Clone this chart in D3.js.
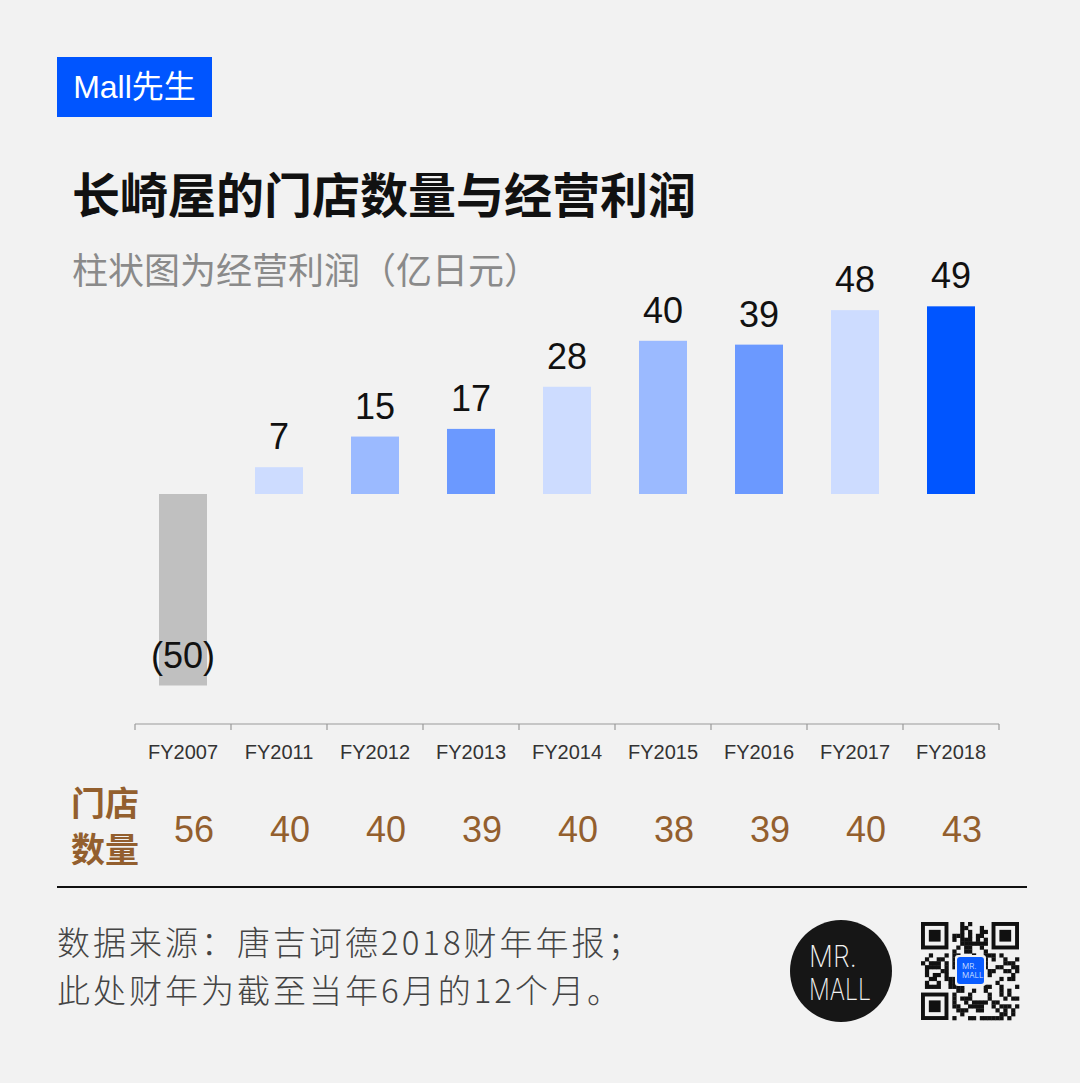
<!DOCTYPE html>
<html>
<head>
<meta charset="utf-8">
<script src="https://cdn.jsdelivr.net/npm/d3@7"></script>
<style>
  html, body { margin: 0; padding: 0; background: #f2f2f2; }
  svg { display: block; }
</style>
</head>
<body>
<script>
// ---- data ----
const categories = ["FY2007", "FY2011", "FY2012", "FY2013", "FY2014", "FY2015", "FY2016", "FY2017", "FY2018"];
const profits = [-50, 7, 15, 17, 28, 40, 39, 48, 49];
const profitLabels = ["(50)", "7", "15", "17", "28", "40", "39", "48", "49"];
const storeCounts = [56, 40, 40, 39, 40, 38, 39, 40, 43];
const barColors = ["#c0c0c0", "#cddcff", "#9bbaff", "#6b99ff", "#cddcff", "#9bbaff", "#6b99ff", "#cddcff", "#0055ff"];
const titleText = "长崎屋的门店数量与经营利润";
const subtitleText = "柱状图为经营利润（亿日元）";
const storeLabelLines = ["门店", "数量"];
const footerLines = ["数据来源：唐吉诃德2018财年年报；", "此处财年为截至当年6月的12个月。"];

const W = 1080, H = 1083;
const CJK = "'Noto Sans CJK SC', 'Noto Sans', sans-serif";
const NUM = "'Liberation Sans', Arial, sans-serif";

const svg = d3.select("body").append("svg").attr("width", W).attr("height", H);
svg.append("rect").attr("width", W).attr("height", H).attr("fill", "#f2f2f2");

// ---- brand box ----
svg.append("rect").attr("x", 57).attr("y", 57).attr("width", 155).attr("height", 60).attr("fill", "#0055ff");
svg.append("text").attr("x", 134.5).attr("y", 98).attr("text-anchor", "middle")
  .attr("font-family", NUM).attr("font-size", 32).attr("fill", "#fff")
  .text("Mall").append("tspan").attr("font-family", CJK).text("先生");

// ---- title ----
svg.append("text").attr("x", 72).attr("y", 213).attr("font-family", CJK).attr("font-weight", 700)
  .attr("font-size", 48).attr("fill", "#111").text(titleText);
svg.append("text").attr("x", 72).attr("y", 284).attr("font-family", CJK).attr("font-weight", 400)
  .attr("font-size", 36).attr("fill", "#8a8a8a").text(subtitleText);

// ---- scales ----
const x = d3.scaleBand().domain(categories).range([135, 999]).paddingInner(0.5).paddingOuter(0.25);
const y = d3.scaleLinear().domain([-50, 50]).range([685.5, 302.5]);

// ---- bars ----
const g = svg.append("g");
g.selectAll("rect.bar").data(categories).join("rect").attr("class", "bar")
  .attr("x", d => x(d))
  .attr("width", x.bandwidth())
  .attr("y", (d, i) => Math.min(y(profits[i]), y(0)))
  .attr("height", (d, i) => Math.abs(y(profits[i]) - y(0)))
  .attr("fill", (d, i) => barColors[i]);

g.selectAll("text.val").data(categories).join("text").attr("class", "val")
  .attr("x", d => x(d) + x.bandwidth() / 2)
  .attr("y", (d, i) => y(profits[i]) - 18)
  .attr("text-anchor", "middle").attr("font-family", NUM).attr("font-size", 36).attr("fill", "#111")
  .text((d, i) => profitLabels[i]);

// ---- axis ----
const axisG = svg.append("g").attr("transform", "translate(0,724)");
axisG.append("line").attr("x1", 135).attr("x2", 999).attr("stroke", "#9a9a9a").attr("stroke-width", 1.2);
const boundaries = categories.map(d => x(d) - x.step() * x.paddingInner() / 2).concat([999]);
axisG.selectAll("line.tick").data(boundaries).join("line").attr("class", "tick")
  .attr("x1", d => d).attr("x2", d => d).attr("y1", 0).attr("y2", 6)
  .attr("stroke", "#9a9a9a").attr("stroke-width", 1.2);
axisG.selectAll("text.lbl").data(categories).join("text").attr("class", "lbl")
  .attr("x", d => x(d) + x.bandwidth() / 2).attr("y", 35)
  .attr("text-anchor", "middle").attr("font-family", NUM).attr("font-size", 20).attr("fill", "#333")
  .text(d => d);

// ---- store counts ----
const brown = "#935f2e";
svg.selectAll("text.slab").data(storeLabelLines).join("text").attr("class", "slab")
  .attr("x", 71).attr("y", (d, i) => 816 + i * 46)
  .attr("font-family", CJK).attr("font-weight", 700).attr("font-size", 34).attr("fill", brown)
  .text(d => d);
svg.selectAll("text.sc").data(categories).join("text").attr("class", "sc")
  .attr("x", d => x(d) + x.bandwidth() / 2 + 11).attr("y", 842)
  .attr("text-anchor", "middle").attr("font-family", NUM).attr("font-size", 36).attr("fill", brown)
  .text((d, i) => storeCounts[i]);

// ---- rule ----
svg.append("line").attr("x1", 57).attr("x2", 1027).attr("y1", 887).attr("y2", 887)
  .attr("stroke", "#111").attr("stroke-width", 2);

// ---- footer ----
svg.selectAll("text.foot").data(footerLines).join("text").attr("class", "foot")
  .attr("x", 57).attr("y", (d, i) => 955 + i * 48)
  .attr("font-family", CJK).attr("font-weight", 300).attr("font-size", 33)
  .attr("letter-spacing", 3).attr("fill", "#444")
  .text(d => d);

// ---- MR.MALL circle ----
svg.append("circle").attr("cx", 841).attr("cy", 971).attr("r", 51).attr("fill", "#161616");
[["MR.", 967], ["MALL", 1000]].forEach(([t, yy]) => {
  svg.append("text").attr("x", 809).attr("y", yy).attr("font-family", "Inter, 'Liberation Sans', sans-serif")
    .attr("font-weight", 200).attr("font-size", 30).attr("fill", "#f2f2f2")
    .attr("textLength", t === "MR." ? 48 : 62).attr("lengthAdjust", "spacingAndGlyphs").text(t);
});

// ---- QR code (decorative) ----
const qx = 921, qy = 922, N = 25, m = 98 / N;
const qr = svg.append("g");
qr.append("rect").attr("x", qx - 2).attr("y", qy - 2).attr("width", 102).attr("height", 102).attr("fill", "#f2f2f2");
function inFinder(r, c) {
  return (r < 8 && c < 8) || (r < 8 && c >= N - 8) || (r >= N - 8 && c < 8);
}
const cells = [];
for (let r = 0; r < N; r++) for (let c = 0; c < N; c++) {
  if (inFinder(r, c)) continue;
  const h = ((r * 31 + c * 17 + r * c * 7) ^ (r * 5 + c * 11)) % 7;
  if (h < 3) cells.push([r, c]);
}
qr.selectAll("rect.m").data(cells).join("rect").attr("class", "m")
  .attr("x", d => qx + d[1] * m).attr("y", d => qy + d[0] * m)
  .attr("width", m + 0.3).attr("height", m + 0.3).attr("fill", "#111");
[[0, 0], [0, N - 7], [N - 7, 0]].forEach(([r, c]) => {
  qr.append("rect").attr("x", qx + c * m + m / 2).attr("y", qy + r * m + m / 2)
    .attr("width", 6 * m).attr("height", 6 * m).attr("fill", "none").attr("stroke", "#111").attr("stroke-width", m);
  qr.append("rect").attr("x", qx + (c + 2) * m).attr("y", qy + (r + 2) * m)
    .attr("width", 3 * m).attr("height", 3 * m).attr("fill", "#111");
});
qr.append("rect").attr("x", 955).attr("y", 955).attr("width", 31).attr("height", 31).attr("rx", 3).attr("fill", "#f2f2f2");
qr.append("rect").attr("x", 957).attr("y", 957).attr("width", 27).attr("height", 27).attr("rx", 3).attr("fill", "#0a5cff");
qr.append("text").attr("x", 962).attr("y", 969).attr("font-family", "Inter, sans-serif").attr("font-weight", 300)
  .attr("font-size", 8).attr("fill", "#dfe8ff")
  .selectAll("tspan").data(["MR.", "MALL"]).join("tspan")
  .attr("x", 962).attr("dy", (d, i) => i === 0 ? 0 : 9).text(d => d);
</script>
</body>
</html>
